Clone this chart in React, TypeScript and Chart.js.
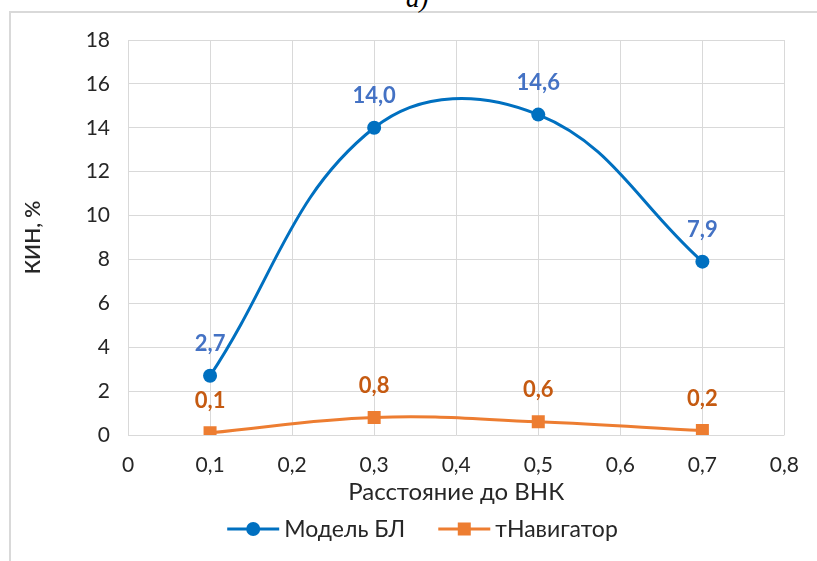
import React, { useEffect, useRef } from 'react';
import { Chart, registerables } from 'chart.js';

Chart.register(...registerables);

const xValues = [0.1, 0.3, 0.5, 0.7];
const modelBL = [2.7, 14.0, 14.6, 7.9];
const tNavigator = [0.1, 0.8, 0.6, 0.2];
const seriesNames = ['Модель БЛ', 'тНавигатор'];
const xTitle = 'Расстояние до ВНК';
const yTitle = 'КИН, %';
const panelLabel = 'а)';

const FONT = 'Lato, "Liberation Sans", sans-serif';
const TEXT = '#262626';
const fmt = (v: number) => v.toFixed(1).replace('.', ',');

const dataLabelPlugin = {
  id: 'dataLabels',
  afterDatasetsDraw(chart: any) {
    const ctx = chart.ctx;
    chart.data.datasets.forEach((ds: any, i: number) => {
      const meta = chart.getDatasetMeta(i);
      ctx.save();
      ctx.font = `bold 22px ${FONT}`;
      ctx.fillStyle = ds.labelColor;
      ctx.textAlign = 'center';
      ctx.textBaseline = 'middle';
      meta.data.forEach((pt: any, j: number) => {
        ctx.fillText(fmt(ds.data[j].y), pt.x, pt.y - 32);
      });
      ctx.restore();
    });
  },
};

const legendPlugin = {
  id: 'lineLegend',
  afterDraw(chart: any) {
    const ctx = chart.ctx;
    ctx.save();
    ctx.font = `23px ${FONT}`;
    const lineLen = 52;
    const gapText = 5;
    const itemGap = 33;
    const items = chart.data.datasets.map((ds: any) => ({ ds, w: ctx.measureText(ds.label).width }));
    const total =
      items.reduce((s: number, it: any) => s + lineLen + gapText + it.w, 0) + itemGap * (items.length - 1);
    let x = chart.width / 2 + 14 - total / 2;
    const y = 529;
    items.forEach((it: any) => {
      const ds = it.ds;
      ctx.strokeStyle = ds.borderColor;
      ctx.lineWidth = 3;
      ctx.beginPath();
      ctx.moveTo(x, y);
      ctx.lineTo(x + lineLen, y);
      ctx.stroke();
      ctx.fillStyle = ds.borderColor;
      const cx = x + lineLen / 2;
      if (ds.pointStyle === 'rect') {
        ctx.fillRect(cx - 6.5, y - 6.5, 13, 13);
      } else {
        ctx.beginPath();
        ctx.arc(cx, y, 7, 0, Math.PI * 2);
        ctx.fill();
      }
      ctx.fillStyle = TEXT;
      ctx.textAlign = 'left';
      ctx.textBaseline = 'middle';
      ctx.fillText(ds.label, x + lineLen + gapText, y + 1);
      x += lineLen + gapText + it.w + itemGap;
    });
    ctx.restore();
  },
};

export default function App() {
  const canvasRef = useRef<HTMLCanvasElement | null>(null);

  useEffect(() => {
    if (!canvasRef.current) return;
    const chart = new Chart(canvasRef.current, {
      type: 'line',
      data: {
        datasets: [
          {
            label: seriesNames[0],
            data: xValues.map((x, i) => ({ x, y: modelBL[i] })),
            borderColor: '#0070C0',
            backgroundColor: '#0070C0',
            borderWidth: 3,
            pointStyle: 'circle',
            pointRadius: 7,
            pointBorderWidth: 0,
            tension: 0.4,
            labelColor: '#4472C4',
          } as any,
          {
            label: seriesNames[1],
            data: xValues.map((x, i) => ({ x, y: tNavigator[i] })),
            borderColor: '#ED7D31',
            backgroundColor: '#ED7D31',
            borderWidth: 3,
            pointStyle: 'rect',
            pointRadius: 9.2,
            pointBorderWidth: 0,
            tension: 0.4,
            labelColor: '#C55A11',
          } as any,
        ],
      },
      options: {
        responsive: false,
        animation: false,
        layout: { padding: { left: 20, right: 31, top: 40, bottom: 54 } },
        plugins: {
          legend: { display: false },
          tooltip: { enabled: false },
        },
        scales: {
          x: {
            type: 'linear',
            min: 0,
            max: 0.8,
            afterFit: (s: any) => {
              s.height = 72;
            },
            ticks: {
              stepSize: 0.1,
              padding: 18,
              color: TEXT,
              font: { family: FONT, size: 21 },
              callback: (v: any) => (Math.abs(v) < 1e-9 ? '0' : fmt(Number(v))),
            },
            grid: { color: '#d9d9d9', lineWidth: 1, drawTicks: false },
            border: { display: false },
            title: {
              display: true,
              text: xTitle,
              color: TEXT,
              padding: 0,
              font: { family: FONT, size: 24 },
            },
          },
          y: {
            min: 0,
            max: 18,
            afterFit: (s: any) => {
              s.width = 108;
            },
            ticks: {
              stepSize: 2,
              padding: 18,
              color: TEXT,
              font: { family: FONT, size: 21 },
            },
            grid: { color: '#d9d9d9', lineWidth: 1, drawTicks: false },
            border: { display: false },
            title: {
              display: true,
              text: yTitle,
              color: TEXT,
              padding: 1,
              font: { family: FONT, size: 21, weight: '600' },
            },
          },
        },
      },
      plugins: [dataLabelPlugin, legendPlugin],
    } as any);
    return () => chart.destroy();
  }, []);

  return (
    <div style={{ position: 'absolute', left: 0, top: 0, width: 817, height: 561, background: '#fff', overflow: 'hidden' }}>
      <div
        style={{
          position: 'absolute',
          left: 9,
          top: 11,
          width: 820,
          height: 560,
          borderLeft: '2px solid #d9d9d9',
          borderTop: '2px solid #d9d9d9',
        }}
      />
      <div
        style={{
          position: 'absolute',
          left: 406,
          top: -17,
          fontFamily: '"Liberation Serif", serif',
          fontStyle: 'italic',
          fontSize: 27,
          lineHeight: '30px',
          color: '#000',
        }}
      >
        {panelLabel}
      </div>
      <canvas ref={canvasRef} width={817} height={561} style={{ position: 'absolute', left: 0, top: 0, display: 'block' }} />
    </div>
  );
}
